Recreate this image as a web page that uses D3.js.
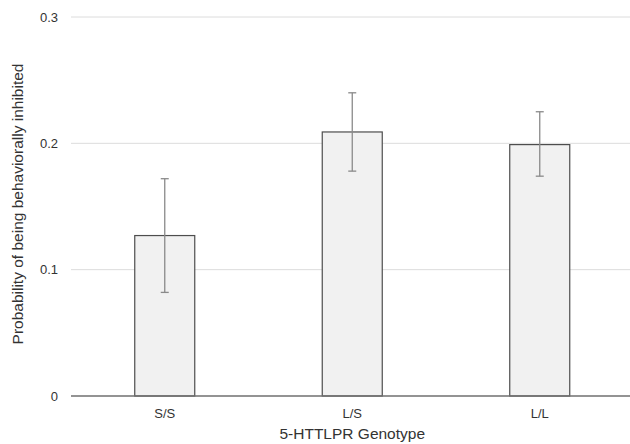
<!DOCTYPE html>
<html>
<head>
<meta charset="utf-8">
<script src="https://cdn.jsdelivr.net/npm/d3@7"></script>
<style>
  body { margin: 0; background: #fff; }
  svg { display: block; font-family: "Liberation Sans", Arial, sans-serif; }
</style>
</head>
<body>
<script>
// dati
var genotypes = ["S/S", "L/S", "L/L"];
var probability = [0.127, 0.209, 0.199];
var errLow = [0.082, 0.178, 0.174];
var errHigh = [0.172, 0.240, 0.225];
var yTicks = [0, 0.1, 0.2, 0.3];

var width = 630, height = 444;
var margin = { top: 17, right: -3.5, bottom: 48, left: 71 };

var svg = d3.select("body")
  .append("svg")
  .attr("width", width)
  .attr("height", height);

var xScale = d3.scaleBand()
  .domain(genotypes)
  .range([margin.left, width - margin.right])
  .paddingInner(0.68)
  .paddingOuter(0.34);

var yScale = d3.scaleLinear()
  .domain([0, 0.3])
  .range([height - margin.bottom, margin.top]);

// griglia orizzontale
svg.append("g")
  .selectAll("line")
  .data(yTicks.slice(1))
  .enter()
  .append("line")
  .attr("x1", margin.left)
  .attr("x2", width)
  .attr("y1", function (d) { return yScale(d); })
  .attr("y2", function (d) { return yScale(d); })
  .style("stroke", "#dcdcdc")
  .style("stroke-width", 1);

// etichette asse y
svg.append("g")
  .selectAll("text")
  .data(yTicks)
  .enter()
  .append("text")
  .attr("x", 58)
  .attr("y", function (d) { return yScale(d); })
  .attr("dy", "0.35em")
  .attr("text-anchor", "end")
  .style("font-size", "13px")
  .style("fill", "#333")
  .text(function (d) { return d === 0 ? "0" : d3.format(".1f")(d); });

// barre
svg.append("g")
  .selectAll("rect")
  .data(genotypes)
  .enter()
  .append("rect")
  .attr("x", function (d) { return xScale(d); })
  .attr("width", xScale.bandwidth())
  .attr("y", function (d, i) { return yScale(probability[i]); })
  .attr("height", function (d, i) { return yScale(0) - yScale(probability[i]); })
  .style("fill", "#f1f1f1")
  .style("stroke", "#4d4d4d")
  .style("stroke-width", 1.2);

// asse x
svg.append("line")
  .attr("x1", margin.left)
  .attr("x2", width)
  .attr("y1", yScale(0))
  .attr("y2", yScale(0))
  .style("stroke", "#6f6f6f")
  .style("stroke-width", 1.5);

// barre di errore
var errG = svg.append("g")
  .selectAll("g")
  .data(genotypes)
  .enter()
  .append("g")
  .style("stroke", "#8a8a8a")
  .style("stroke-width", 1.3);

errG.append("line")
  .attr("x1", function (d) { return xScale(d) + xScale.bandwidth() / 2; })
  .attr("x2", function (d) { return xScale(d) + xScale.bandwidth() / 2; })
  .attr("y1", function (d, i) { return yScale(errLow[i]); })
  .attr("y2", function (d, i) { return yScale(errHigh[i]); });

[errLow, errHigh].forEach(function (arr) {
  errG.append("line")
    .attr("x1", function (d) { return xScale(d) + xScale.bandwidth() / 2 - 4; })
    .attr("x2", function (d) { return xScale(d) + xScale.bandwidth() / 2 + 4; })
    .attr("y1", function (d, i) { return yScale(arr[i]); })
    .attr("y2", function (d, i) { return yScale(arr[i]); });
});

// etichette asse x
svg.append("g")
  .selectAll("text")
  .data(genotypes)
  .enter()
  .append("text")
  .attr("x", function (d) { return xScale(d) + xScale.bandwidth() / 2; })
  .attr("y", 418)
  .attr("text-anchor", "middle")
  .style("font-size", "13px")
  .style("fill", "#333")
  .text(function (d) { return d; });

// titoli degli assi
svg.append("text")
  .attr("x", xScale("L/S") + xScale.bandwidth() / 2)
  .attr("y", 439)
  .attr("text-anchor", "middle")
  .style("font-size", "15.5px")
  .style("fill", "#333")
  .text("5-HTTLPR Genotype");

svg.append("text")
  .attr("transform", "translate(23," + 204 + ") rotate(-90)")
  .attr("text-anchor", "middle")
  .style("font-size", "15.5px")
  .style("fill", "#333")
  .text("Probability of being behaviorally inhibited");
</script>
</body>
</html>
